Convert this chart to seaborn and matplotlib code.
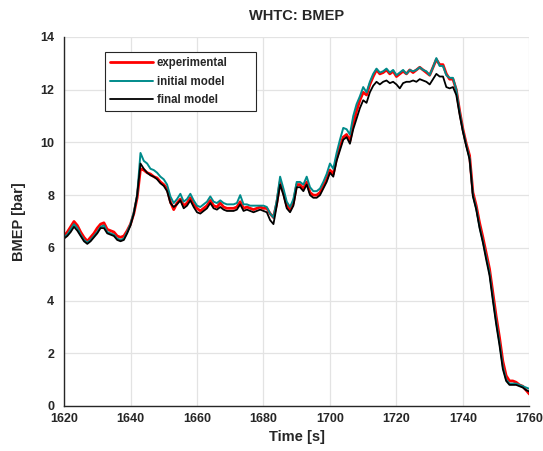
import numpy as np
import pandas as pd
import matplotlib
matplotlib.use("Agg")
import matplotlib.pyplot as plt
import seaborn as sns


# 1. DATA (1 s steps)

time_s = list(range(1620, 1761))

bmep_experimental = [
    6.45, 6.6, 6.8, 7.0, 6.85, 6.6, 6.4, 6.25, 6.4, 6.55,
    6.75, 6.9, 6.95, 6.7, 6.65, 6.6, 6.45, 6.4, 6.45, 6.65,
    6.9, 7.3, 7.9, 9.0, 8.95, 8.85, 8.8, 8.7, 8.65, 8.5,
    8.4, 8.25, 7.75, 7.45, 7.7, 7.85, 7.6, 7.7, 7.9, 7.65,
    7.5, 7.4, 7.5, 7.6, 7.8, 7.6, 7.55, 7.7, 7.55, 7.5,
    7.5, 7.5, 7.55, 7.75, 7.5, 7.55, 7.5, 7.45, 7.5, 7.55,
    7.5, 7.5, 7.3, 7.15, 7.7, 8.5, 8.1, 7.6, 7.45, 7.7,
    8.4, 8.4, 8.25, 8.5, 8.1, 8.0, 8.0, 8.1, 8.35, 8.6,
    8.95, 8.8, 9.4, 9.85, 10.2, 10.3, 10.05, 10.7, 11.2, 11.6,
    11.9, 11.8, 12.2, 12.5, 12.75, 12.6, 12.65, 12.75, 12.6, 12.7,
    12.5, 12.6, 12.7, 12.6, 12.75, 12.65, 12.75, 12.85, 12.75, 12.65,
    12.55, 12.85, 13.15, 12.95, 12.95, 12.6, 12.4, 12.4, 12.0, 11.2,
    10.5, 9.95, 9.5, 8.1, 7.6, 6.95, 6.4, 5.8, 5.2, 4.3,
    3.4, 2.6, 1.7, 1.15, 0.95, 0.95, 0.9, 0.8, 0.75, 0.6,
    0.45,
]

bmep_initial = [
    6.4, 6.5, 6.7, 6.9, 6.75, 6.5, 6.3, 6.2, 6.3, 6.45,
    6.6, 6.8, 6.85, 6.6, 6.55, 6.5, 6.35, 6.3, 6.35, 6.6,
    6.9, 7.35, 8.0, 9.6, 9.3, 9.2, 9.0, 8.95, 8.85, 8.7,
    8.6, 8.4, 7.95, 7.7, 7.85, 8.05, 7.75, 7.85, 8.05, 7.8,
    7.6, 7.55, 7.65, 7.75, 7.95, 7.75, 7.7, 7.8, 7.7, 7.65,
    7.65, 7.65, 7.7, 8.0, 7.65, 7.65, 7.6, 7.6, 7.6, 7.6,
    7.6, 7.55, 7.3, 7.15, 7.8, 8.7, 8.25, 7.75, 7.55, 7.85,
    8.5, 8.5, 8.4, 8.7, 8.3, 8.15, 8.15, 8.25, 8.5, 8.8,
    9.2, 9.0, 9.6, 10.1, 10.55, 10.5, 10.3, 11.0, 11.45, 11.75,
    12.1, 11.9, 12.3, 12.6, 12.8, 12.65, 12.7, 12.8, 12.65, 12.75,
    12.55, 12.65, 12.75, 12.6, 12.75, 12.7, 12.75, 12.85, 12.75, 12.7,
    12.55, 12.85, 13.2, 12.9, 12.9, 12.55, 12.45, 12.45, 12.0, 11.15,
    10.45, 9.9, 9.4, 8.0, 7.5, 6.8, 6.25, 5.65, 5.05, 4.1,
    3.2, 2.4, 1.5, 1.0, 0.85, 0.85, 0.85, 0.8, 0.75, 0.7,
    0.65,
]

bmep_final = [
    6.35, 6.45, 6.6, 6.8, 6.65, 6.45, 6.25, 6.15, 6.25, 6.4,
    6.55, 6.75, 6.75, 6.55, 6.5, 6.45, 6.3, 6.25, 6.3, 6.55,
    6.85, 7.3, 8.0, 9.2, 9.0, 8.85, 8.75, 8.7, 8.6, 8.45,
    8.35, 8.15, 7.7, 7.55, 7.65, 7.8, 7.5, 7.6, 7.8, 7.55,
    7.35, 7.3, 7.4, 7.5, 7.7, 7.5, 7.45, 7.55, 7.45, 7.4,
    7.4, 7.4, 7.45, 7.65, 7.4, 7.45, 7.4, 7.35, 7.4, 7.45,
    7.4, 7.35, 7.05, 6.9, 7.6, 8.4, 8.0, 7.5, 7.35, 7.6,
    8.3, 8.3, 8.15, 8.4, 8.0, 7.9, 7.9, 8.0, 8.25, 8.5,
    8.85, 8.7, 9.3, 9.7, 10.1, 10.2, 9.95, 10.5, 10.9, 11.3,
    11.6, 11.5, 11.9, 12.15, 12.3, 12.2, 12.3, 12.35, 12.25, 12.3,
    12.2, 12.05, 12.25, 12.3, 12.3, 12.35, 12.3, 12.4, 12.35, 12.3,
    12.2, 12.4, 12.6, 12.5, 12.5, 12.1, 12.05, 12.1, 11.8, 11.05,
    10.4, 9.85, 9.35, 7.95, 7.45, 6.75, 6.2, 5.55, 4.95, 4.0,
    3.1, 2.3, 1.4, 0.95, 0.8, 0.8, 0.8, 0.75, 0.7, 0.6,
    0.55,
]

x_ticks = [1620, 1640, 1660, 1680, 1700, 1720, 1740, 1760]
y_ticks = [0, 2, 4, 6, 8, 10, 12, 14]


# 2. STYLE

sns.set_style("whitegrid")
plt.rcParams["font.family"] = ["Liberation Sans", "DejaVu Sans"]
plt.rcParams["font.weight"] = "bold"


# 3. PLOT

df = pd.DataFrame({
    "time": time_s,
    "experimental": bmep_experimental,
    "initial model": bmep_initial,
    "final model": bmep_final,
})

fig, ax = plt.subplots(figsize=(5.43, 4.51), dpi=100)
fig.subplots_adjust(left=0.1179, right=0.975, top=0.918, bottom=0.0998)

sns.lineplot(data=df, x="time", y="experimental", ax=ax,
             color="#ff0000", linewidth=2.0, label="experimental")
sns.lineplot(data=df, x="time", y="initial model", ax=ax,
             color="#008b8b", linewidth=1.4, label="initial model")
sns.lineplot(data=df, x="time", y="final model", ax=ax,
             color="#000000", linewidth=1.3, label="final model")

ax.set_xlim(1620, 1760)
ax.set_ylim(0, 14)
ax.set_xticks(x_ticks)
ax.set_yticks(y_ticks)

ax.grid(True, color="#e3e3e3", linewidth=0.9)
for side in ["top", "right"]:
    ax.spines[side].set_visible(False)
for side in ["left", "bottom"]:
    ax.spines[side].set_color("#262626")
    ax.spines[side].set_linewidth(1.0)

ax.tick_params(axis="both", direction="in", length=4, width=0.8,
               colors="#262626", labelsize=9)
ax.tick_params(axis="x", pad=5)
ax.tick_params(axis="y", pad=7)
for lbl in ax.get_xticklabels() + ax.get_yticklabels():
    lbl.set_fontweight("bold")

ax.set_title("WHTC: BMEP", fontsize=10.5, fontweight="bold", pad=12)
ax.set_xlabel("Time [s]", fontsize=10.5, fontweight="bold", labelpad=4)
ax.set_ylabel("BMEP [bar]", fontsize=10.5, fontweight="bold", labelpad=10)

leg = ax.legend(loc="upper left", bbox_to_anchor=(0.088, 0.5, 0.325, 0.459),
                mode="expand", frameon=True, fancybox=False, framealpha=1,
                edgecolor="#262626", fontsize=8.3, handlelength=3.7,
                handletextpad=0.35, labelspacing=0.55, borderpad=0.45,
                borderaxespad=0)
leg.get_frame().set_linewidth(0.8)
for txt in leg.get_texts():
    txt.set_fontweight("bold")

plt.savefig("out.png", dpi=100)
plt.close()
